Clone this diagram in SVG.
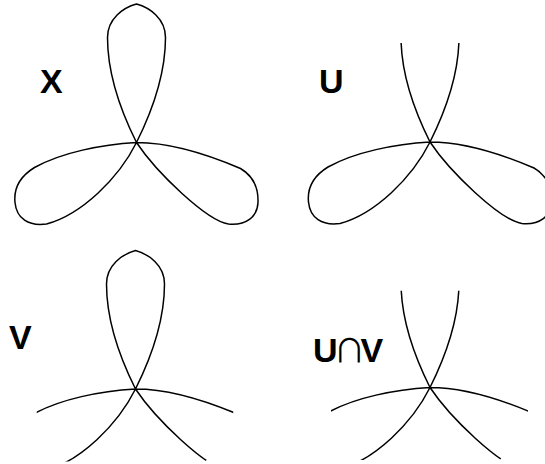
<svg xmlns="http://www.w3.org/2000/svg" xmlns:xlink="http://www.w3.org/1999/xlink" width="545" height="464" viewBox="0 0 545 464">
  <style>
    .curve { fill: none; stroke: #000; stroke-width: 1.5; stroke-linejoin: round; }
    .lbl { font-family: "Liberation Sans", Arial, sans-serif; font-weight: bold; font-size: 34px; fill: #000; }
    .thin { font-family: "Noto Sans CJK JP", "DejaVu Sans", sans-serif; font-weight: normal; font-size: 32px; }
  </style>
  <defs>
    <path id="trefoil" class="curve" d="M0,0 C -14,-28 -29,-68 -29,-105 C -29,-124 -13,-135 0,-138.5 C 13,-135 29,-124 29,-105 C 29,-68 14,-28 0,0 C -18,36 -55,72 -90,81.5 C -108,84 -120,76 -121.5,60 C -123,45 -115,33 -102,25 C -75,10 -35,2 0,0 C 38,0 76,14 104,26 C 116,33 122,45 121.5,60 C 121,74 110,83 92,81.5 C 70,78 20,30 0,0 Z"/>
    <clipPath id="clipU"><rect x="-200" y="-99" width="400" height="300"/></clipPath>
    <clipPath id="clipV"><polygon points="-99,-150 98,-150 98,30 70,72.5 -70.5,72.5 -99,30"/></clipPath>
    <clipPath id="clipUV"><polygon points="-99,-97 98,-97 98,30 70,72.5 -70.5,72.5 -99,30"/></clipPath>
  </defs>

  <g id="space-X" transform="translate(136.5,142.5)">
    <use xlink:href="#trefoil" href="#trefoil"/>
  </g>
  <g id="space-U" transform="translate(430,142)">
    <use xlink:href="#trefoil" href="#trefoil" clip-path="url(#clipU)"/>
  </g>
  <g id="space-V" transform="translate(135.5,389)">
    <use xlink:href="#trefoil" href="#trefoil" clip-path="url(#clipV)"/>
  </g>
  <g id="space-UV" transform="translate(430,387.5)">
    <use xlink:href="#trefoil" href="#trefoil" clip-path="url(#clipUV)"/>
  </g>

  <g id="labels">
    <text id="label-X" class="lbl" x="40" y="93">X</text>
    <text id="label-U" class="lbl" x="319" y="93">U</text>
    <text id="label-V" class="lbl" x="9" y="349">V</text>
    <text id="label-UV" class="lbl" x="313" y="362">U<tspan class="thin" dx="-4">∩</tspan><tspan dx="-5">V</tspan></text>
  </g>
</svg>
